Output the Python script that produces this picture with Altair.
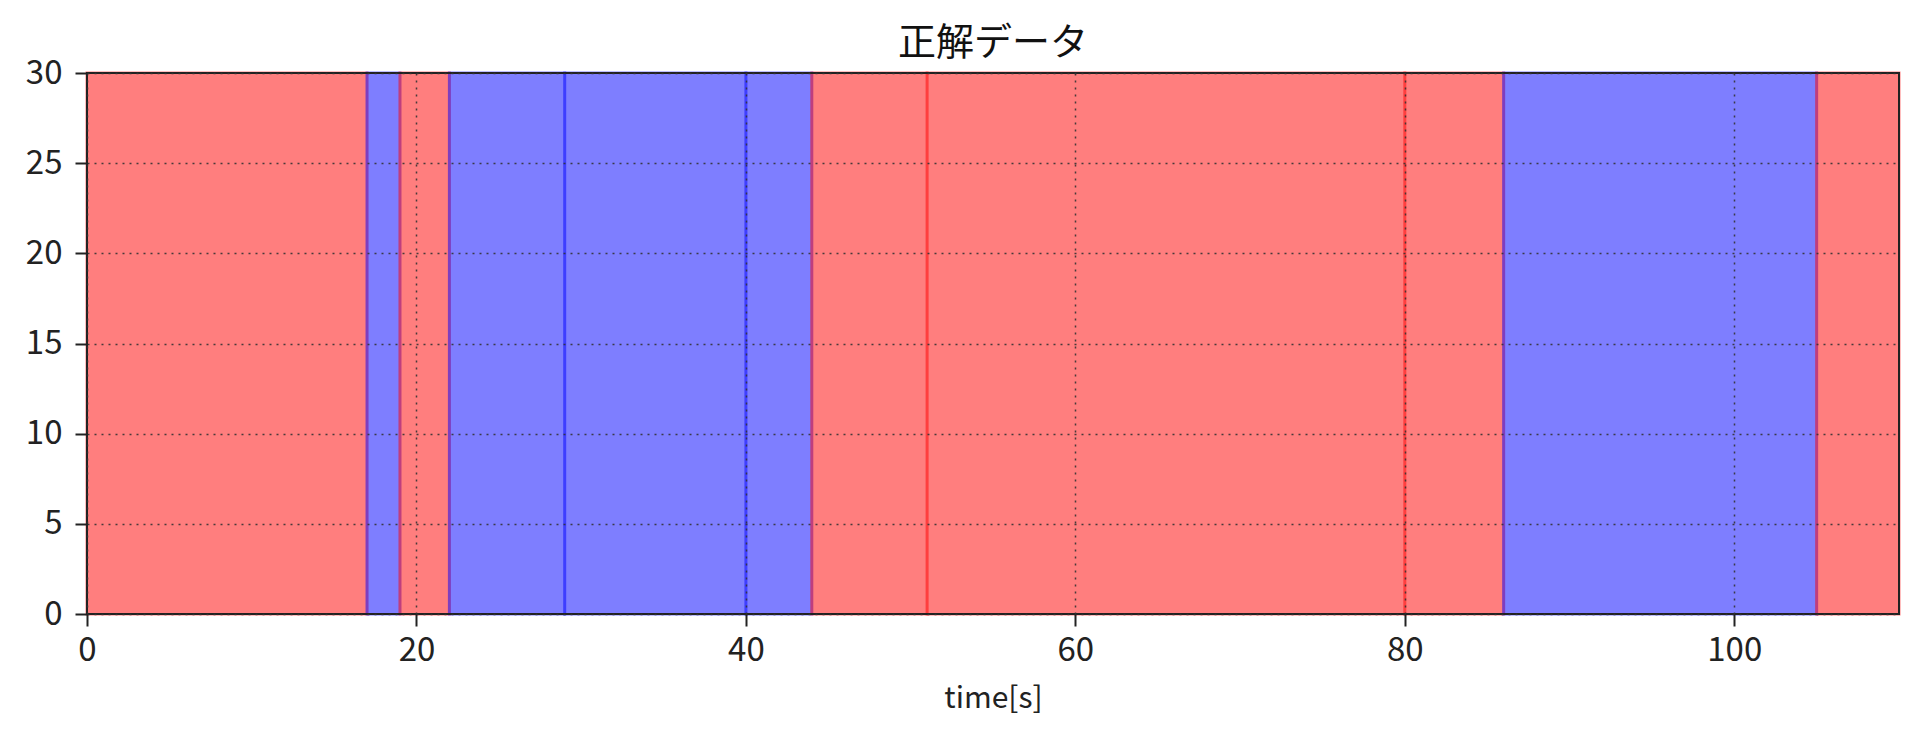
import altair as alt
import pandas as pd

# Segment boundaries (seconds) and class of each segment
seg_start = [0, 17, 19, 22, 29, 40, 44, 51, 80, 86, 105]
seg_end = [17, 19, 22, 29, 40, 44, 51, 80, 86, 105, 110]
seg_class = ["red", "blue", "red", "blue", "blue", "blue", "red", "red", "red", "blue", "red"]

x_limits = [0, 110]
y_limits = [0, 30]
x_ticks = [0, 20, 40, 60, 80, 100]
y_ticks = [0, 5, 10, 15, 20, 25, 30]

FONT = "Noto Sans CJK JP"

segs = pd.DataFrame({
    "start": seg_start,
    "end": seg_end,
    "cls": seg_class,
    "ylo": [y_limits[0]] * len(seg_start),
    "yhi": [y_limits[1]] * len(seg_start),
})
frame = pd.DataFrame({"x0": [x_limits[0]], "x1": [x_limits[1]],
                      "y0": [y_limits[0]], "y1": [y_limits[1]]})

xscale = alt.Scale(domain=x_limits, nice=False, zero=False)
yscale = alt.Scale(domain=y_limits, nice=False, zero=False)

axis_common = dict(
    grid=True, gridColor="#333333", gridDash=[2, 5], gridWidth=1.5, gridOpacity=0.9,
    domain=False, tickColor="#222222", tickWidth=2, tickSize=12,
    labelFont=FONT, labelFontSize=33, labelColor="#222222", labelFlush=False, zindex=1,
)

spans = alt.Chart(segs).mark_rect(strokeWidth=3, opacity=0.5).encode(
    x=alt.X("start:Q", scale=xscale,
            axis=alt.Axis(values=x_ticks, title="time[s]", titleFont=FONT,
                          titleFontSize=30, titleFontWeight="normal", titleColor="#222222",
                          titlePadding=16, labelPadding=8, **axis_common)),
    x2="end:Q",
    y=alt.Y("ylo:Q", scale=yscale,
            axis=alt.Axis(values=y_ticks, title=None, labelPadding=13, **axis_common)),
    y2="yhi:Q",
    color=alt.Color("cls:N", scale=alt.Scale(domain=["red", "blue"], range=["#ff0000", "#0000ff"]),
                    legend=None),
    stroke=alt.Stroke("cls:N", scale=alt.Scale(domain=["red", "blue"], range=["#ff0000", "#0000ff"]),
                      legend=None),
)

border = alt.Chart(frame).mark_rect(fill=None, stroke="#222222", strokeWidth=2).encode(
    x="x0:Q", x2="x1:Q", y="y0:Q", y2="y1:Q"
)

chart = alt.layer(spans, border).properties(
    width=1812, height=541,
    title=alt.Title("正解データ", font=FONT, fontSize=38, fontWeight="normal",
                    color="#111111", offset=-6),
    autosize=alt.AutoSizeParams(type="none"),
    padding={"left": 79, "top": 65, "right": 13, "bottom": 115},
).configure_view(stroke=None)

chart.save("out.html", embed_options={"renderer": "svg", "actions": False})
